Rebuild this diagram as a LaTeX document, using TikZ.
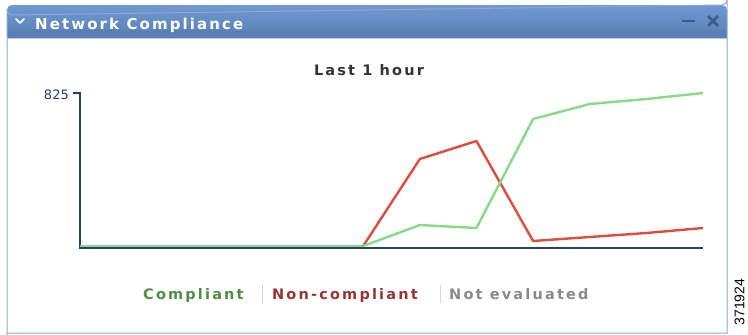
\documentclass[tikz,border=0pt]{standalone}
\usepackage{fontspec}
\setmainfont{DejaVu Sans}
\newfontfamily\hdfont[LetterSpace=14]{DejaVu Sans Bold}
\newfontfamily\lgfont[LetterSpace=15]{DejaVu Sans Bold}
\newfontfamily\sidefont{Liberation Sans}
\definecolor{hdtop}{HTML}{6E99D1}
\definecolor{hdbot}{HTML}{5A7FB4}
\definecolor{frame}{HTML}{8AA8D6}
\definecolor{axisc}{HTML}{27406F}
\definecolor{greenl}{HTML}{86DB86}
\definecolor{redl}{HTML}{E04C3C}
\definecolor{leggreen}{HTML}{4E8E3E}
\definecolor{legred}{HTML}{993434}
\definecolor{leggray}{HTML}{8A8A8A}
\definecolor{iconc}{HTML}{3E5C88}
\tikzset{
  series/.style={line width=2.4pt, line join=round},
  legtext/.style={anchor=base west, inner sep=0pt, font=\fontsize{14.5}{14.5}\lgfont},
  sepline/.style={draw=black!15, line width=0.8pt},
}
\begin{document}
\begin{tikzpicture}[x=1pt,y=-1pt]
\useasboundingbox (0,0) rectangle (748,335);
% header
\shade[top color=hdtop, bottom color=hdbot, rounded corners=5pt] (7,5) -- (727,5) -- (727,38) -- (7,38) -- cycle;
\fill[hdbot] (7,30) rectangle (727,38);
% panel frame
\draw[frame, line width=1pt] (7,335) -- (7,10) arc[start angle=180, end angle=90, radius=5] -- (722,5) arc[start angle=90, end angle=0, radius=5] -- (727,333) -- (7,333);
\draw[frame!60, line width=0.8pt] (7.5,38.5) -- (726.5,38.5);
\draw[white!85!hdtop, line width=2pt, line cap=round, line join=round] (16,19) -- (20,23) -- (24,19);
\node[anchor=base west, inner sep=0pt, text=white, font=\fontsize{15}{15}\hdfont] (title) at (35,29) {Network Compliance};
\draw[iconc, line width=2.6pt] (682,21) -- (695,21);
\draw[iconc, line width=2.6pt] (708,16) -- (718,26) (718,16) -- (708,26);
% chart title
\node[anchor=base, inner sep=0pt, text=black!80, font=\fontsize{14.5}{14.5}\lgfont] (ctitle) at (369,75.5) {Last 1 hour};
% axes
\coordinate (ytop) at (80,93);
\coordinate (orig) at (80,248);
\coordinate (xend) at (703,248);
\coordinate (tick) at (73,93);
\draw[axisc, line width=1.3pt] (tick) -- (ytop) -- (orig) -- (xend);
\node[anchor=east, inner sep=0pt, text=axisc, font=\fontsize{13}{13}\selectfont] (ylab) at (69,95) {825};
% data points
\foreach \i/\g/\r in {0/246/246,1/246/246,2/246/246,3/246/246,4/246/246,5/246/246,6/225/159,7/228/141,8/119/241,9/104/237,10/99/233,11/93/228}{
  \coordinate (g\i) at ({80+56.64*\i},\g);
  \coordinate (r\i) at ({80+56.64*\i},\r);
}
\draw[series, greenl] (g0) -- (g5);
\draw[series, redl] (r5) -- (r6) -- (r7) -- (r8) -- (r9) -- (r10) -- (r11);
\draw[series, greenl] (g5) -- (g6) -- (g7) -- (g8) -- (g9) -- (g10) -- (g11);
% legend
\node[legtext, text=leggreen] (lc) at (143,299.5) {Compliant};
\node[legtext, text=legred] (ln) at (272,299.5) {Non-compliant};
\node[legtext, text=leggray] (le) at (449,299.5) {Not evaluated};
\draw[sepline] (262,285) -- (262,303);
\draw[sepline] (440,285) -- (440,303);
% side id
\node[rotate=90, anchor=center, inner sep=0pt, font=\fontsize{14}{14}\sidefont] (sid) at (739.5,302) {371924};
\end{tikzpicture}
\end{document}
